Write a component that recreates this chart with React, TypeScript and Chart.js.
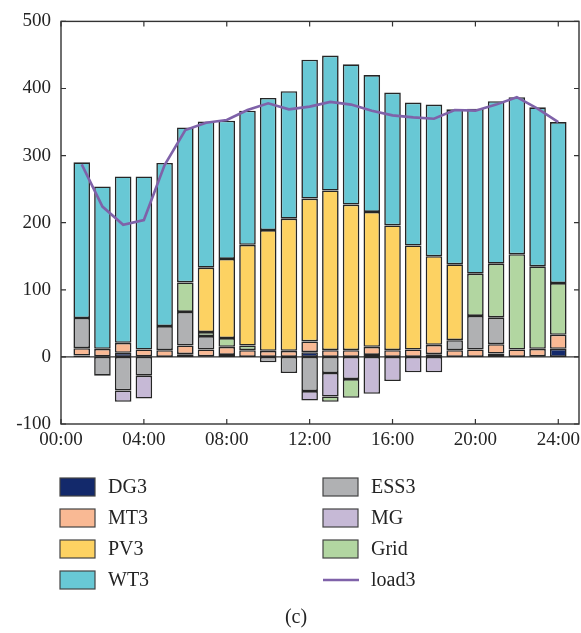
import React, { useEffect, useRef } from "react";
import { Chart, registerables } from "chart.js";

Chart.register(...registerables);

// Hour of day for every bar / load point
const hours = [1, 2, 3, 4, 5, 6, 7, 8, 9, 10, 11, 12, 13, 14, 15, 16, 17, 18, 19, 20, 21, 22, 23, 24];
const xTickHours = [0, 4, 8, 12, 16, 20, 24];
const yTickValues = [-100, 0, 100, 200, 300, 400, 500];

// Dispatch of microgrid 3 (kW)
const dg3 = [2, 1, 6, 1, 0, 4, 1, 3, 0, 0, 0, 7, 0, 0, 3, 0, 0, 4, 0, 0, 5, 0, 1, 12];
const mt3 = [11, 11, 15, 10, 10, 13, 10, 12, 10, 9, 9, 16, 10, 10, 12, 10, 11, 14, 10, 11, 14, 11, 11, 21];
const ess3 = [45, -28, -50, -28, 36, 50, 20, 0, 0, -8, -24, -51, -24, 0, 0, 0, 0, 0, 15, 50, 40, 0, 0, 0];
const mg = [0, 0, -17, -34, 0, 0, 0, 0, 0, 0, 0, -14, -35, -33, -55, -36, -23, -23, 0, 0, 0, 0, 0, 0];
const grid = [0, 0, 0, 0, 0, 44, 6, 13, 7, 0, 0, 0, -8, -28, 0, 0, 0, 0, 0, 63, 80, 142, 123, 77];
const pv3 = [0, 0, 0, 0, 0, 0, 96, 118, 150, 180, 197, 213, 238, 217, 201, 186, 155, 132, 113, 0, 0, 0, 0, 0];
const wt3 = [232, 242, 248, 258, 243, 231, 218, 206, 200, 197, 190, 207, 201, 209, 204, 198, 213, 226, 231, 246, 242, 234, 237, 240];
const load3 = [287, 224, 197, 204, 286, 338, 349, 353, 368, 378, 369, 373, 380, 376, 367, 360, 357, 355, 368, 367, 376, 387, 370, 350];

const colors: Record<string, string> = {
  DG3: "#13296b",
  MT3: "#f9b994",
  PV3: "#fdd262",
  WT3: "#68c8d5",
  ESS3: "#b0b1b3",
  MG: "#c6b9d6",
  Grid: "#b2d6a1",
  load3: "#7f62a9",
};

// Stacking order (bottom-up for positives, top-down for negatives)
const barSeries: [string, number[]][] = [
  ["DG3", dg3],
  ["MT3", mt3],
  ["ESS3", ess3],
  ["MG", mg],
  ["Grid", grid],
  ["PV3", pv3],
  ["WT3", wt3],
];

const legendColumns = [
  ["DG3", "MT3", "PV3", "WT3"],
  ["ESS3", "MG", "Grid", "load3"],
];

const FONT = '"Liberation Serif", "Times New Roman", serif';
const INK = "#242424";

const framePlugin = {
  id: "frameAndTicks",
  beforeDatasetsDraw(chart: any) {
    const { ctx, chartArea, scales } = chart;
    const y0 = scales.y.getPixelForValue(0);
    ctx.save();
    ctx.strokeStyle = "#333";
    ctx.lineWidth = 1.2;
    ctx.beginPath();
    ctx.moveTo(chartArea.left, y0);
    ctx.lineTo(chartArea.right, y0);
    ctx.stroke();
    ctx.restore();
  },
  afterDraw(chart: any) {
    const { ctx, chartArea, scales } = chart;
    const { left, right, top, bottom } = chartArea;
    const len = 5;
    ctx.save();
    ctx.strokeStyle = "#333";
    ctx.lineWidth = 1.4;
    ctx.strokeRect(left, top, right - left, bottom - top);
    ctx.lineWidth = 1.2;
    ctx.beginPath();
    for (const v of xTickHours) {
      const x = scales.x.getPixelForValue(v);
      ctx.moveTo(x, bottom);
      ctx.lineTo(x, bottom - len);
      ctx.moveTo(x, top);
      ctx.lineTo(x, top + len);
    }
    for (const v of yTickValues) {
      const y = scales.y.getPixelForValue(v);
      ctx.moveTo(left, y);
      ctx.lineTo(left + len, y);
      ctx.moveTo(right, y);
      ctx.lineTo(right - len, y);
    }
    ctx.stroke();

    // Legend in two columns
    const colX = [60, 323];
    const rowY = [487, 518, 549, 580];
    ctx.font = `20px ${FONT}`;
    ctx.textBaseline = "middle";
    ctx.textAlign = "left";
    legendColumns.forEach((col, ci) => {
      col.forEach((name, ri) => {
        const x = colX[ci];
        const y = rowY[ri];
        const ds = chart.data.datasets.find((d: any) => d.label === name);
        if (ds && ds.type === "line") {
          ctx.strokeStyle = ds.borderColor;
          ctx.lineWidth = 2.5;
          ctx.beginPath();
          ctx.moveTo(x, y);
          ctx.lineTo(x + 36, y);
          ctx.stroke();
        } else {
          ctx.fillStyle = colors[name];
          ctx.fillRect(x, y - 9, 35, 18);
          ctx.strokeStyle = "#444";
          ctx.lineWidth = 1.2;
          ctx.strokeRect(x, y - 9, 35, 18);
        }
        ctx.fillStyle = INK;
        ctx.fillText(name, x + 48, y + 1);
      });
    });

    ctx.textAlign = "center";
    ctx.fillText("(c)", 296, 618);
    ctx.restore();
  },
};

export default function App() {
  const canvasRef = useRef<HTMLCanvasElement | null>(null);

  useEffect(() => {
    if (!canvasRef.current) return;
    const toPoints = (arr: number[]) =>
      hours.map((h, i) => ({ x: h, y: arr[i] === 0 ? null : arr[i] }));

    const datasets: any[] = barSeries.map(([label, values]) => ({
      type: "bar",
      label,
      data: toPoints(values),
      backgroundColor: colors[label],
      borderColor: "#262626",
      borderWidth: 1.6,
      borderSkipped: false,
      barPercentage: 0.8,
      categoryPercentage: 1,
      order: 1,
    }));
    datasets.push({
      type: "line",
      label: "load3",
      data: hours.map((h, i) => ({ x: h, y: load3[i] })),
      borderColor: colors.load3,
      borderWidth: 2.6,
      pointRadius: 0,
      tension: 0,
      fill: false,
      stack: "load",
      order: 0,
    });

    const chart = new Chart(canvasRef.current, {
      type: "bar",
      data: { datasets },
      options: {
        responsive: false,
        animation: false,
        devicePixelRatio: 1,
        layout: { padding: { top: 14, right: 2, left: 0, bottom: 179 } },
        plugins: { legend: { display: false }, tooltip: { enabled: false } },
        scales: {
          x: {
            type: "linear",
            min: 0,
            max: 25,
            stacked: true,
            offset: false,
            grid: { display: false, drawTicks: false },
            border: { display: false },
            afterBuildTicks: (scale: any) => {
              scale.ticks = xTickHours.map((v) => ({ value: v }));
            },
            afterFit: (scale: any) => {
              scale.height = 30;
              scale.paddingLeft = 0;
              scale.paddingRight = 0;
            },
            ticks: {
              padding: 5,
              maxRotation: 0,
              autoSkip: false,
              color: INK,
              font: { family: FONT, size: 19 },
              callback: (v: any) => `${String(v).padStart(2, "0")}:00`,
            },
          },
          y: {
            min: -100,
            max: 500,
            stacked: true,
            grid: { display: false, drawTicks: false },
            border: { display: false },
            afterBuildTicks: (scale: any) => {
              scale.ticks = yTickValues.map((v) => ({ value: v }));
            },
            afterFit: (scale: any) => {
              scale.width = 61;
            },
            ticks: {
              padding: 10,
              color: INK,
              font: { family: FONT, size: 19 },
              callback: (v: any) => String(v),
            },
          },
        },
      },
      plugins: [framePlugin],
    });
    return () => chart.destroy();
  }, []);

  return (
    <div style={{ position: "absolute", left: 0, top: 0, width: 581, height: 633, background: "#fff" }}>
      <canvas ref={canvasRef} width={581} height={633} />
    </div>
  );
}
